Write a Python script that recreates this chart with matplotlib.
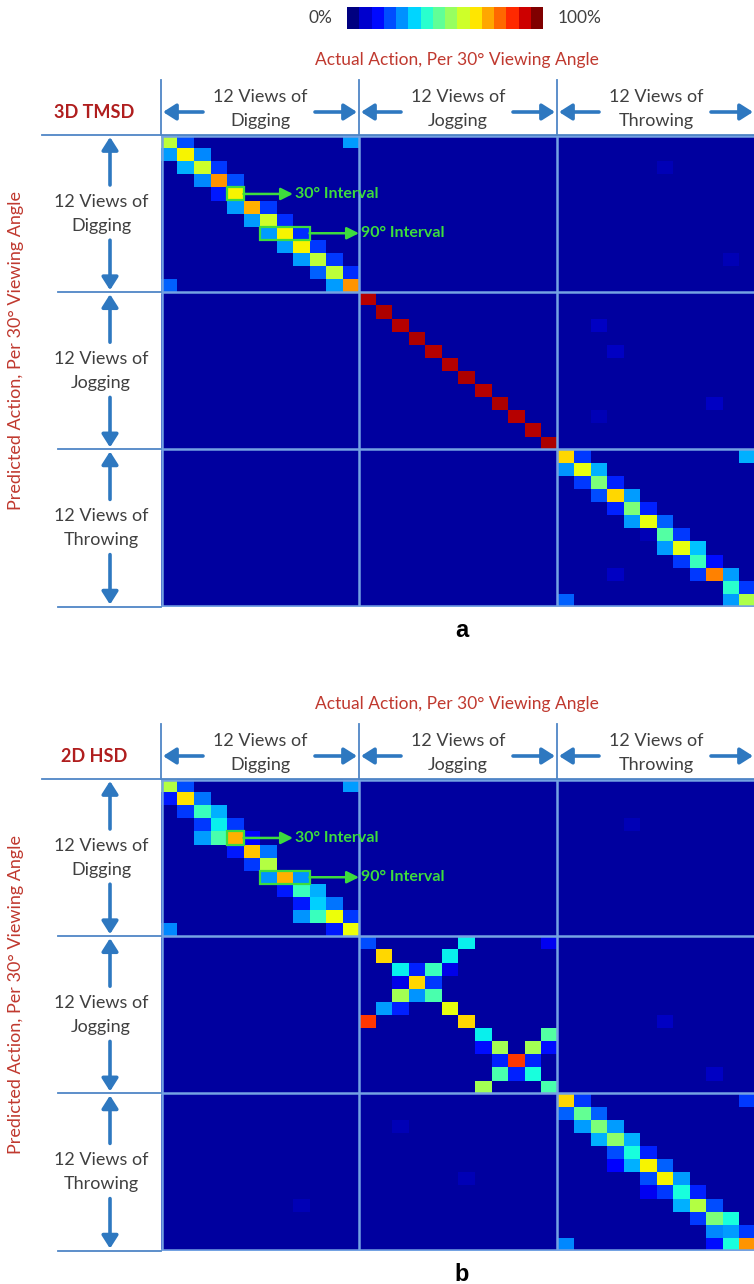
import numpy as np
import matplotlib
matplotlib.use("Agg")
import matplotlib.pyplot as plt
from matplotlib.patches import Rectangle
from matplotlib.colors import Normalize
from matplotlib.cm import ScalarMappable

plt.rcParams["font.family"] = ["Lato", "DejaVu Sans"]

# ---------------------------------------------------------------- data
actions = ["Digging", "Jogging", "Throwing"]
n_views = 12
methods = ["3D TMSD", "2D HSD"]
panel_letters = ["a", "b"]
background = 0.03

# (row, col, value) inside each diagonal 12x12 block
a_digging = [(0, 0, .58), (0, 1, .20), (0, 11, .28),
             (1, 0, .28), (1, 1, .65), (1, 2, .26),
             (2, 1, .30), (2, 2, .60), (2, 3, .18),
             (3, 2, .26), (3, 3, .75), (3, 4, .20),
             (4, 3, .15), (4, 4, .65),
             (5, 4, .28), (5, 5, .72), (5, 6, .18),
             (6, 5, .28), (6, 6, .60), (6, 7, .17),
             (7, 6, .28), (7, 7, .65), (7, 8, .17),
             (8, 7, .28), (8, 8, .65), (8, 9, .18),
             (9, 8, .28), (9, 9, .58), (9, 10, .18),
             (10, 9, .22), (10, 10, .58), (10, 11, .17),
             (11, 0, .22), (11, 10, .28), (11, 11, .75)]
a_jogging_diag = [.95, .96, .95, .96, .95, .95, .96, .95, .96, .95, .95, .96]
a_throwing = [(0, 0, .68), (0, 1, .18), (0, 11, .30),
              (1, 0, .27), (1, 1, .63), (1, 2, .30),
              (2, 1, .18), (2, 2, .50), (2, 3, .16),
              (3, 2, .20), (3, 3, .68), (3, 4, .28),
              (4, 3, .16), (4, 4, .50), (4, 5, .16),
              (5, 4, .28), (5, 5, .63), (5, 6, .22),
              (6, 5, .16), (6, 6, .45), (6, 7, .18),
              (7, 6, .28), (7, 7, .63), (7, 8, .32),
              (8, 7, .18), (8, 8, .42), (8, 9, .14),
              (9, 8, .18), (9, 9, .77), (9, 10, .28),
              (10, 10, .40), (10, 11, .18),
              (11, 0, .22), (11, 10, .28), (11, 11, .56)]

b_digging = [(0, 0, .57), (0, 1, .20), (0, 11, .28),
             (1, 0, .15), (1, 1, .67), (1, 2, .24),
             (2, 1, .18), (2, 2, .42), (2, 3, .30),
             (3, 2, .18), (3, 3, .36), (3, 4, .18),
             (4, 2, .28), (4, 3, .44), (4, 4, .72), (4, 5, .12),
             (5, 4, .15), (5, 5, .70), (5, 6, .24),
             (6, 5, .18), (6, 6, .57),
             (7, 6, .27), (7, 7, .72), (7, 8, .27),
             (8, 7, .15), (8, 8, .42), (8, 9, .30),
             (9, 8, .15), (9, 9, .33), (9, 10, .24),
             (10, 8, .27), (10, 9, .42), (10, 10, .64), (10, 11, .18),
             (11, 0, .26), (11, 10, .15), (11, 11, .64)]
b_jogging = [(0, 0, .20), (0, 6, .36), (0, 11, .10),
             (1, 1, .68), (1, 5, .36),
             (2, 2, .36), (2, 3, .16), (2, 4, .42), (2, 5, .09),
             (3, 2, .09), (3, 3, .68), (3, 4, .18),
             (4, 2, .55), (4, 3, .27), (4, 4, .44),
             (5, 1, .28), (5, 2, .16), (5, 5, .63),
             (6, 0, .85), (6, 6, .68),
             (7, 7, .36), (7, 11, .45),
             (8, 7, .14), (8, 8, .55), (8, 10, .55), (8, 11, .14),
             (9, 8, .16), (9, 9, .85), (9, 10, .16),
             (10, 8, .44), (10, 9, .16), (10, 10, .38),
             (11, 7, .55), (11, 11, .44)]
b_throwing = [(0, 0, .68), (0, 1, .18), (0, 11, .18),
              (1, 0, .22), (1, 1, .47), (1, 2, .22),
              (2, 1, .28), (2, 2, .50), (2, 3, .28),
              (3, 2, .30), (3, 3, .52), (3, 4, .30),
              (4, 3, .20), (4, 4, .38), (4, 5, .16),
              (5, 3, .12), (5, 4, .30), (5, 5, .65), (5, 6, .22),
              (6, 5, .20), (6, 6, .65), (6, 7, .28),
              (7, 5, .10), (7, 6, .18), (7, 7, .38), (7, 8, .16),
              (8, 7, .30), (8, 8, .57), (8, 9, .20),
              (9, 8, .18), (9, 9, .50), (9, 10, .38),
              (10, 9, .26), (10, 10, .28), (10, 11, .18),
              (11, 0, .26), (11, 9, .14), (11, 10, .38), (11, 11, .75)]

# faint off-block confusions, full 36x36 indices
a_faint = [(2, 30, .05), (9, 34, .05), (14, 26, .06), (16, 27, .06),
           (20, 33, .06), (21, 26, .05), (30, 29, .05), (33, 27, .06)]
b_faint = [(3, 28, .05), (18, 30, .06), (22, 33, .06), (26, 14, .05),
           (30, 18, .05), (32, 8, .05)]

# green annotation: (row, first col, n cells, label)
intervals = [(4, 4, 1, "30° Interval"), (7, 6, 3, "90° Interval")]


def build(blocks, faint):
    m = np.full((36, 36), background)
    for k, cells in enumerate(blocks):
        for r, c, v in cells:
            m[k * n_views + r, k * n_views + c] = v
    for r, c, v in faint:
        m[r, c] = v
    return m


a_jogging = [(i, i, v) for i, v in enumerate(a_jogging_diag)]
mats = [build([a_digging, a_jogging, a_throwing], a_faint),
        build([b_digging, b_jogging, b_throwing], b_faint)]

# ---------------------------------------------------------------- layout (pixels)
W, H = 754, 1284
x0, cw, ch = 161.0, 16.5, 13.1
tops = [135.0, 779.0]
blk_w, blk_h = n_views * cw, n_views * ch

grid_c = "#74a2e2"
line_c = "#4f86c6"
arrow_c = "#2e78c0"
text_c = "#404040"
red_c = "#c0392f"
green_c = "#3ddc3d"

fig = plt.figure(figsize=(W / 100, H / 100), dpi=100)
ov = fig.add_axes([0, 0, 1, 1], zorder=5)
ov.set_xlim(0, W)
ov.set_ylim(H, 0)
ov.axis("off")

aprops = dict(arrowstyle="-|>,head_length=0.55,head_width=0.35", color=arrow_c,
              lw=2.6, shrinkA=0, shrinkB=0, mutation_scale=14)

for p, top in enumerate(tops):
    mat = mats[p]
    ax = fig.add_axes([x0 / W, 1 - (top + 3 * blk_h) / H, 36 * cw / W, 3 * blk_h / H])
    ax.imshow(mat, cmap="jet", vmin=0, vmax=1, aspect="auto", interpolation="nearest")
    ax.set_xticks([])
    ax.set_yticks([])
    for s in ax.spines.values():
        s.set_visible(False)
    for b in [11.5, 23.5]:
        ax.axvline(b, color=grid_c, lw=1.8)
        ax.axhline(b, color=grid_c, lw=1.8)
    ax.axhline(35.45, color=grid_c, lw=1.8)
    ax.axvline(-0.45, color=grid_c, lw=1.8)
    ax.axhline(-0.45, color=grid_c, lw=1.8)

    # green interval boxes
    for r, c, n, lab in intervals:
        ax.add_patch(Rectangle((c - 0.5, r - 0.5), n, 1, fill=False,
                               edgecolor=green_c, lw=1.6))
        tx = c - 0.5 + n + 3.1
        ax.annotate("", xy=(tx - 0.1, r), xytext=(c - 0.5 + n, r),
                    arrowprops=dict(arrowstyle="-|>,head_length=0.6,head_width=0.3",
                                    color=green_c, lw=1.8, shrinkA=0, shrinkB=0,
                                    mutation_scale=12), annotation_clip=False)
        ax.text(tx, r, lab, color=green_c, fontsize=11.5, fontweight="bold",
                ha="left", va="center")

    # header (actual)
    ov.text(457, top - 75, "Actual Action, Per 30° Viewing Angle", color=red_c,
            fontsize=12.5, ha="center", va="center")
    ov.text(94, top - 23, methods[p], color="#b01e1e", fontsize=13,
            fontweight="bold", ha="center", va="center")
    ov.plot([42, W], [top, top], color=line_c, lw=1.3)
    for k, act in enumerate(actions):
        L = x0 + k * blk_w
        R = L + blk_w
        ov.plot([L, L], [top - 55, top], color=line_c, lw=1.3)
        ov.annotate("", xy=(L + 2, top - 23), xytext=(L + 42, top - 23), arrowprops=aprops)
        ov.annotate("", xy=(R - 2, top - 23), xytext=(R - 44, top - 23), arrowprops=aprops)
        ov.text(L + blk_w / 2, top - 38, "12 Views of", color=text_c, fontsize=13,
                ha="center", va="center")
        ov.text(L + blk_w / 2, top - 14, act, color=text_c, fontsize=13,
                ha="center", va="center")

    # side (predicted)
    for k, act in enumerate(actions):
        T = top + k * blk_h
        B = T + blk_h
        mid = (T + B) / 2
        ov.plot([58, x0], [B, B], color=line_c, lw=1.3)
        ov.annotate("", xy=(110, T + 2), xytext=(110, T + 50), arrowprops=aprops)
        ov.annotate("", xy=(110, B - 2), xytext=(110, B - 52), arrowprops=aprops)
        ov.text(101, mid - 12, "12 Views of", color=text_c, fontsize=13,
                ha="center", va="center")
        ov.text(101, mid + 12, act, color=text_c, fontsize=13,
                ha="center", va="center")
    ov.text(16, top + 215, "Predicted Action, Per 30° Viewing Angle", color=red_c,
            fontsize=13, rotation=90, ha="center", va="center")

    ov.text(462, top + 3 * blk_h + 24, panel_letters[p], fontsize=17,
            fontweight="bold", family="Liberation Sans", ha="center", va="center")

# colour bar on top
cax = fig.add_axes([347 / W, 1 - 29 / H, 196 / W, 22 / H])
sm = ScalarMappable(norm=Normalize(0, 1), cmap=plt.get_cmap("jet", 16))
cb = fig.colorbar(sm, cax=cax, orientation="horizontal")
cb.set_ticks([])
cb.outline.set_visible(False)
ov.text(332, 18, "0%", color=text_c, fontsize=12.5, ha="right", va="center")
ov.text(558, 18, "100%", color=text_c, fontsize=12.5, ha="left", va="center")

fig.savefig("out.png", dpi=100)
